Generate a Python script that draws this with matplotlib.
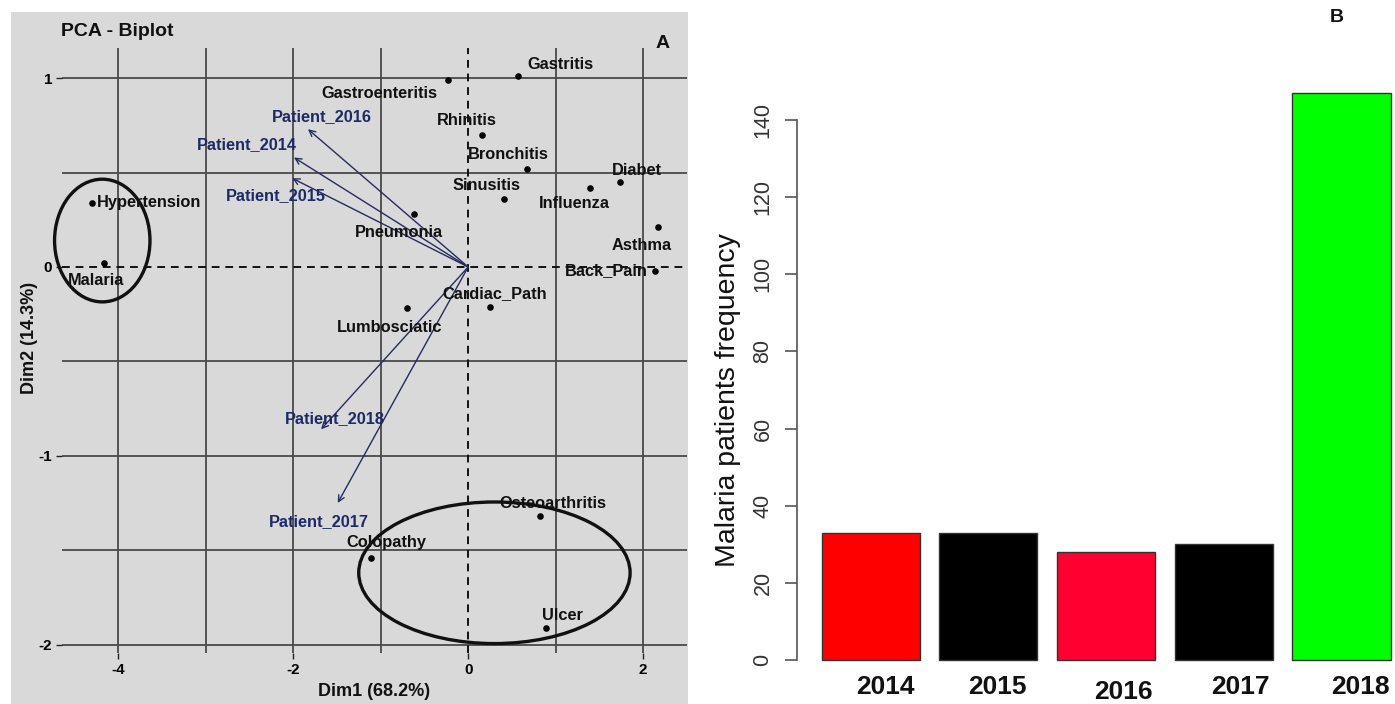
import matplotlib
matplotlib.use("Agg")
import matplotlib.pyplot as plt
from matplotlib.patches import Ellipse, Rectangle

plt.rcParams['font.family'] = ['Liberation Sans', 'DejaVu Sans']

# ---- Panel A: PCA biplot -------------------------------------------------
diseases = ['Gastritis', 'Gastroenteritis', 'Rhinitis', 'Bronchitis', 'Diabet',
            'Influenza', 'Sinusitis', 'Asthma', 'Back_Pain', 'Pneumonia',
            'Hypertension', 'Malaria', 'Cardiac_Path', 'Lumbosciatic',
            'Osteoarthritis', 'Colopathy', 'Ulcer']
dis_dim1 = [0.57, -0.23, 0.16, 0.67, 1.74, 1.39, 0.41, 2.17, 2.14, -0.62,
            -4.30, -4.16, 0.25, -0.70, 0.82, -1.11, 0.89]
dis_dim2 = [1.01, 0.99, 0.70, 0.52, 0.45, 0.42, 0.36, 0.21, -0.02, 0.28,
            0.34, 0.02, -0.21, -0.22, -1.32, -1.54, -1.91]

patients = ['Patient_2014', 'Patient_2015', 'Patient_2016', 'Patient_2017', 'Patient_2018']
pat_dim1 = [-1.99, -2.01, -1.83, -1.49, -1.68]
pat_dim2 = [0.58, 0.47, 0.73, -1.25, -0.86]

# concentration ellipses: centre x, centre y, width, height
ellipse_cx = [-4.18, 0.30]
ellipse_cy = [0.14, -1.62]
ellipse_w = [1.09, 3.10]
ellipse_h = [0.65, 0.75]

x_ticks = [-4, -2, 0, 2]
y_ticks = [1, 0, -1, -2]

# ---- Panel B: yearly malaria counts --------------------------------------
years = ['2014', '2015', '2016', '2017', '2018']
malaria_freq = [33, 33, 28, 30, 147]
bar_colors = ['#ff0000', '#000000', '#ff0030', '#000000', '#00ff00']
freq_ticks = [0, 20, 40, 60, 80, 100, 120, 140]

# text placement (pixel offsets from each mark)
dis_ha = ['left', 'right', 'center', 'center', 'center', 'center', 'center',
          'center', 'right', 'center', 'left', 'center', 'center', 'center',
          'center', 'center', 'center']
dis_off = [(9, 12), (-11, -13), (-15, 14), (-18, 14), (16, 12), (-15, -16),
           (-18, 14), (-16, -18), (-8, 0), (-15, -18), (5, 0), (-8, -17),
           (5, 13), (-17, -19), (13, 13), (15, 15), (16, 12)]
pat_off = [(-47, 13), (-16, -17), (14, 13), (-19, -19), (14, 11)]
year_off = [(15, -27), (9, -27), (17, -32), (17, -27), (19, -27)]

W, H = 1395, 704
fig = plt.figure(figsize=(W / 100, H / 100), dpi=100)
fig.patch.set_facecolor('white')

panel_gray = '#d9d9d9'
fig.patches.append(Rectangle((11 / W, 0), (688 - 11) / W, (H - 12) / H,
                             transform=fig.transFigure, facecolor=panel_gray,
                             edgecolor='none', zorder=-5))

axA = fig.add_axes([62 / W, (H - 653) / H, (687 - 62) / W, (653 - 48) / H])
axA.set_zorder(2)
axA.set_facecolor('none')
axA.set_xlim(-4.64, 2.50)
axA.set_ylim(-2.045, 1.16)
for s in axA.spines.values():
    s.set_visible(False)

grid_col = '#4a4a4a'
for gx in [-4, -3, -2, -1, 1, 2]:
    axA.axvline(gx, color=grid_col, lw=1.3, zorder=1)
for gy in [1, 0.5, -0.5, -1, -1.5, -2]:
    axA.axhline(gy, color=grid_col, lw=1.3, zorder=1)
axA.axvline(0, color='#111111', lw=1.4, ls=(0, (4, 3)), zorder=1)
axA.axhline(0, color='#111111', lw=1.4, ls=(0, (4, 3)), zorder=1)

axA.set_xticks(x_ticks)
axA.set_xticklabels([str(v) for v in x_ticks])
axA.set_yticks(y_ticks)
axA.set_yticklabels([str(v) for v in y_ticks])
axA.tick_params(axis='both', length=4, width=1, color='#222222', pad=3,
                labelsize=11)
for lab in axA.get_xticklabels() + axA.get_yticklabels():
    lab.set_fontweight('bold')

navy = '#1d2a66'
for px, py in zip(pat_dim1, pat_dim2):
    axA.annotate('', xy=(px, py), xytext=(0, 0),
                 arrowprops=dict(arrowstyle='->', color='#262c5e', lw=1.0,
                                 mutation_scale=11, shrinkA=0, shrinkB=0),
                 zorder=3)
for name, px, py, off in zip(patients, pat_dim1, pat_dim2, pat_off):
    axA.annotate(name, xy=(px, py), xytext=off, textcoords='offset pixels',
                 ha='center', va='center', fontsize=11.8, fontweight='bold',
                 color=navy, zorder=4)

axA.scatter(dis_dim1, dis_dim2, s=14, color='black', zorder=4)
for name, dx, dy, ha, off in zip(diseases, dis_dim1, dis_dim2, dis_ha, dis_off):
    axA.annotate(name, xy=(dx, dy), xytext=off, textcoords='offset pixels',
                 ha=ha, va='center', fontsize=11.8, fontweight='bold',
                 color='#111111', zorder=4)

for cx, cy, ew, eh in zip(ellipse_cx, ellipse_cy, ellipse_w, ellipse_h):
    axA.add_patch(Ellipse((cx, cy), ew, eh, fill=False, edgecolor='#111111',
                          lw=2.4, zorder=3, clip_on=False))

fig.text(61 / W, 1 - 32 / H, 'PCA - Biplot', ha='left', va='center',
         fontsize=14, fontweight='bold', color='#111111')
fig.text(663 / W, 1 - 43 / H, 'A', ha='center', va='center',
         fontsize=14, fontweight='bold', color='#111111')
fig.text(374 / W, 1 - 692 / H, 'Dim1 (68.2%)', ha='center', va='center',
         fontsize=13, fontweight='bold', color='#111111')
fig.text(29 / W, 1 - 338 / H, 'Dim2 (14.3%)', ha='center', va='center',
         rotation=90, fontsize=13, fontweight='bold', color='#111111',
         family=['Liberation Sans Narrow', 'Liberation Sans', 'DejaVu Sans'])

# ---- Panel B -------------------------------------------------------------
bar_w = 1.0
bar_space = 0.2
centers = [bar_space + bar_w / 2 + i * (bar_w + bar_space) for i in range(len(years))]

x_lo, x_hi = -0.05, 6.232
px_per_unit = 98.1
left_px = 797
axB_w = (x_hi - x_lo) * px_per_unit
y_lo, y_hi = -5.88, 152.88
bottom_px, top_px = 682.7, 70.3
axB = fig.add_axes([left_px / W, (H - bottom_px) / H, axB_w / W,
                    (bottom_px - top_px) / H])
axB.set_xlim(x_lo, x_hi)
axB.set_ylim(y_lo, y_hi)
axB.bar(centers, malaria_freq, width=bar_w, color=bar_colors,
        edgecolor='#333333', linewidth=1.0)
for s in ['top', 'right', 'bottom']:
    axB.spines[s].set_visible(False)
axB.spines['left'].set_bounds(freq_ticks[0], freq_ticks[-1])
axB.spines['left'].set_color('#555555')
axB.spines['left'].set_linewidth(1.2)
axB.set_yticks(freq_ticks)
axB.set_yticklabels([str(v) for v in freq_ticks], rotation=90, va='center')
axB.tick_params(axis='y', length=9, width=1.2, color='#555555', pad=8,
                labelsize=15.5, labelcolor='#333333')
axB.set_xticks([])
for c, yr, off in zip(centers, years, year_off):
    axB.annotate(yr, xy=(c, 0), xytext=off, textcoords='offset pixels',
                 ha='center', va='center', fontsize=19, fontweight='bold',
                 color='#111111', annotation_clip=False)

fig.text(728 / W, 1 - 400 / H, 'Malaria patients frequency', ha='center',
         va='center', rotation=90, fontsize=20.5, color='#111111')
fig.text(1337 / W, 1 - 17 / H, 'B', ha='center', va='center', fontsize=14,
         fontweight='bold', color='#111111')

fig.savefig('out.png', dpi=100)
